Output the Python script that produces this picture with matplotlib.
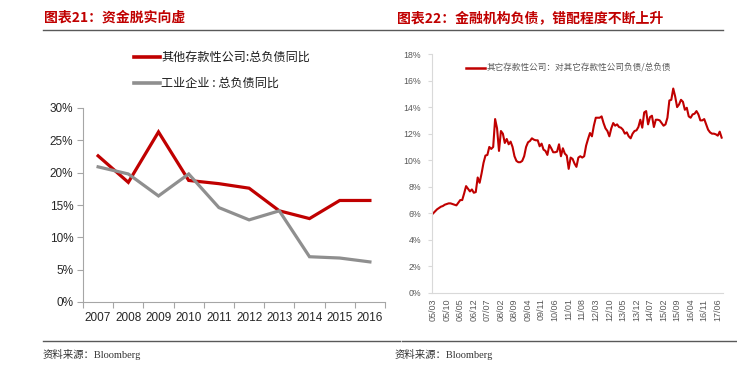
import numpy as np
import pandas as pd
import matplotlib
matplotlib.use('Agg')
import matplotlib.pyplot as plt
from matplotlib.lines import Line2D

plt.rcParams['font.family'] = ['Liberation Sans', 'Noto Sans CJK SC', 'DejaVu Sans']

# left chart: 资金脱实向虚
years = ['2007', '2008', '2009', '2010', '2011', '2012', '2013', '2014', '2015', '2016']
deposit_corp = [22.6, 18.5, 26.3, 18.8, 18.3, 17.6, 14.1, 12.9, 15.7, 15.7]
industrial = [20.9, 19.8, 16.4, 19.8, 14.6, 12.7, 14.1, 7.0, 6.8, 6.2]
left_labels = ['其他存款性公司:总负债同比', '工业企业 : 总负债同比']

# right chart: monthly, 2005/03 - 2017/08
ratio = [6.0, 6.15, 6.3, 6.4, 6.5, 6.55, 6.65, 6.7, 6.75, 6.75,
         6.7, 6.65, 6.6, 6.8, 7.0, 7.0, 7.5, 8.05, 7.85, 7.65,
         7.8, 7.55, 7.6, 8.7, 8.3, 9.0, 9.8, 10.35, 10.4, 11.0,
         10.85, 11.0, 13.1, 12.4, 10.7, 12.2, 12.0, 11.3, 11.6, 11.2,
         11.4, 11.0, 10.3, 9.95, 9.85, 9.85, 9.95, 10.3, 11.0, 11.35,
         11.45, 11.65, 11.55, 11.5, 11.5, 11.05, 11.25, 10.8, 10.7, 10.4,
         11.15, 10.9, 10.6, 10.6, 10.65, 11.2, 10.3, 10.9, 10.5, 10.35,
         9.35, 10.2, 10.1, 9.75, 9.5, 10.2, 10.3, 10.2, 10.3, 11.1,
         11.6, 12.05, 11.8, 12.6, 13.2, 13.2, 13.2, 13.3, 12.8, 12.4,
         12.2, 11.8, 12.4, 12.8, 12.6, 12.7, 12.5, 12.45, 12.3, 12.0,
         12.1, 11.8, 11.65, 12.0, 12.2, 12.25, 12.5, 13.05, 12.45, 13.6,
         13.7, 12.7, 13.25, 13.35, 12.5, 13.05, 13.05, 13.0, 12.8, 12.6,
         12.7, 13.2, 14.5, 14.55, 15.4, 14.8, 14.0, 14.2, 14.55, 14.4,
         13.8, 13.95, 13.3, 13.2, 13.45, 13.5, 13.7, 13.45, 13.0, 13.0,
         13.1, 12.7, 12.3, 12.1, 12.0, 12.0, 11.95, 11.85, 12.15, 11.7]
months = pd.date_range('2005-03-01', periods=len(ratio), freq='MS')
month_labels = [d.strftime('%y/%m') for d in months]
right_label = '其它存款性公司：对其它存款性公司负债/总负债'

red = '#C00000'
grey = '#8F8F8F'
W, H = 737, 370

fig = plt.figure(figsize=(7.37, 3.70), dpi=100)

def fx(px):
    return px / W

def fy(py):
    return 1 - py / H

# titles and rules
title_font = dict(family=['Noto Sans CJK SC'], fontsize=10, color=red, fontweight='bold', va='center')
fig.text(fx(44), fy(18), '图表21：资金脱实向虚', **title_font)
fig.text(fx(397), fy(18), '图表22：金融机构负债，错配程度不断上升', **title_font)
fig.add_artist(Line2D([fx(43), fx(723)], [fy(30), fy(30)], color='#595959', lw=1))
fig.add_artist(Line2D([fx(43), fx(400)], [fy(341), fy(341)], color='#595959', lw=1))
fig.add_artist(Line2D([fx(402), fx(737)], [fy(341), fy(341)], color='#595959', lw=1))
src_font = dict(family=['Liberation Serif', 'Noto Sans CJK SC'], fontsize=7.5, color='#333333', va='center')
fig.text(fx(43), fy(354), '资料来源：Bloomberg', **src_font)
fig.text(fx(395), fy(354), '资料来源：Bloomberg', **src_font)

# left chart
ax1 = fig.add_axes([fx(83), fy(302), fx(385 - 83), (302 - 108) / H])
x = np.arange(len(years))
ax1.plot(x, deposit_corp, color=red, lw=2.3, solid_joinstyle='miter')
ax1.plot(x, industrial, color=grey, lw=2.3, solid_joinstyle='miter')
ax1.set_xlim(-0.5, len(years) - 0.5)
ax1.set_ylim(0, 30)
ax1.set_yticks(np.arange(0, 31, 5))
ax1.set_yticklabels(['{}%'.format(v) for v in range(0, 31, 5)])
ax1.set_xticks(np.arange(-0.5, len(years), 1))
ax1.set_xticklabels([])
ax1.set_xticks(x, minor=True)
ax1.set_xticklabels(years, minor=True)
ax1.tick_params(axis='x', which='minor', length=0, pad=7, labelsize=8.5, labelcolor='#262626')
ax1.tick_params(axis='x', which='major', length=4, color='#A6A6A6')
ax1.tick_params(axis='y', length=4, color='#A6A6A6', labelsize=8.5, labelcolor='#262626', pad=3)
for s in ['top', 'right']:
    ax1.spines[s].set_visible(False)
for s in ['left', 'bottom']:
    ax1.spines[s].set_color('#A6A6A6')
    ax1.spines[s].set_linewidth(0.8)

# left legend drawn in figure space
for py, col, lab in [(57, red, left_labels[0]), (83, grey, left_labels[1])]:
    fig.add_artist(Line2D([fx(134), fx(160)], [fy(py), fy(py)], color=col, lw=2.6))
    fig.text(fx(161), fy(py), lab, family=['Noto Sans CJK SC'], fontsize=8.7, color='#1a1a1a', va='center')

# right chart
ax2 = fig.add_axes([fx(432), fy(293), fx(723 - 432), (293 - 54) / H])
ax2.plot(np.arange(len(ratio)), ratio, color=red, lw=1.5)
ax2.set_xlim(-0.6, len(ratio) - 0.3)
ax2.set_ylim(0, 18)
ax2.set_yticks(np.arange(0, 19, 2))
ax2.set_yticklabels(['{}%'.format(v) for v in range(0, 19, 2)])
tick_idx = list(range(0, len(ratio), 7))
ax2.set_xticks(tick_idx)
ax2.set_xticklabels([month_labels[i] for i in tick_idx], rotation=90)
ax2.tick_params(axis='x', length=0, pad=4, labelsize=6.5, labelcolor='#595959')
ax2.tick_params(axis='y', length=3, color='#D9D9D9', labelsize=6.3, labelcolor='#595959', pad=5)
for s in ['top', 'right']:
    ax2.spines[s].set_visible(False)
for s in ['left', 'bottom']:
    ax2.spines[s].set_color('#D9D9D9')
    ax2.spines[s].set_linewidth(0.8)
fig.add_artist(Line2D([fx(466), fx(485)], [fy(68), fy(68)], color=red, lw=1.8))
fig.text(fx(487), fy(68), right_label, family=['Noto Sans CJK SC'], fontsize=6.2, color='#595959', va='center')

fig.savefig('out.png', dpi=100)
